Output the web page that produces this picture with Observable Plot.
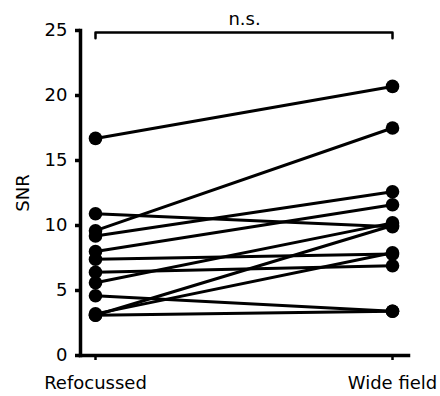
<!DOCTYPE html>
<html>
<head>
<meta charset="utf-8">
<script src="https://cdn.jsdelivr.net/npm/d3@7"></script>
<script src="https://cdn.jsdelivr.net/npm/@observablehq/plot@0.6"></script>
<style>
  html, body { margin: 0; padding: 0; background: white; }
</style>
</head>
<body>
<div id="chart"></div>
<script>
const conditions = ["Refocussed", "Wide field"];
const refocussed = [16.7, 9.6, 10.9, 9.2, 8.0, 7.4, 6.4, 5.6, 4.6, 3.1, 3.2, 3.1];
const wideField  = [20.7, 17.5, 9.9, 12.6, 11.6, 7.8, 6.9, 10.2, 3.4, 10.0, 7.9, 3.4];
const yTicks = [0, 5, 10, 15, 20, 25];
const bracketLevels = [24.4, 24.85];
const annotation = "n.s.";
const yLabel = "SNR";

const data = refocussed.flatMap((v, i) => [
  {id: i, cond: conditions[0], snr: v},
  {id: i, cond: conditions[1], snr: wideField[i]}
]);

const bracket = [
  {cond: conditions[0], y: bracketLevels[0]},
  {cond: conditions[0], y: bracketLevels[1]},
  {cond: conditions[1], y: bracketLevels[1]},
  {cond: conditions[1], y: bracketLevels[0]}
];

const chart = Plot.plot({
  width: 440,
  height: 396,
  marginLeft: 80,
  marginRight: 32,
  marginTop: 30,
  marginBottom: 41,
  style: {fontFamily: "DejaVu Sans", fontSize: "18px", color: "black", background: "white"},
  x: {type: "point", domain: conditions, range: [95, 392], padding: 0},
  y: {domain: [0, 25]},
  marks: [
    Plot.axisY({ticks: yTicks, tickSize: 5, tickPadding: 8, strokeWidth: 3.5, fontSize: 18,
      label: yLabel, labelAnchor: "center", labelArrow: "none", labelOffset: 64}),
    Plot.axisX({tickSize: 5, tickPadding: 16, strokeWidth: 2.5, fontSize: 18, label: null}),
    Plot.frame({anchor: "left", strokeWidth: 3.5}),
    Plot.frame({anchor: "bottom", strokeWidth: 3.5}),
    Plot.line(bracket, {x: "cond", y: "y", stroke: "black", strokeWidth: 2.5}),
    Plot.text([annotation], {frameAnchor: "top", dy: -18, fontSize: 18}),
    Plot.line(data, {x: "cond", y: "snr", z: "id", stroke: "black", strokeWidth: 3}),
    Plot.dot(data, {x: "cond", y: "snr", r: 6.8, fill: "black"})
  ]
});
document.getElementById("chart").appendChild(chart);
</script>
</body>
</html>
